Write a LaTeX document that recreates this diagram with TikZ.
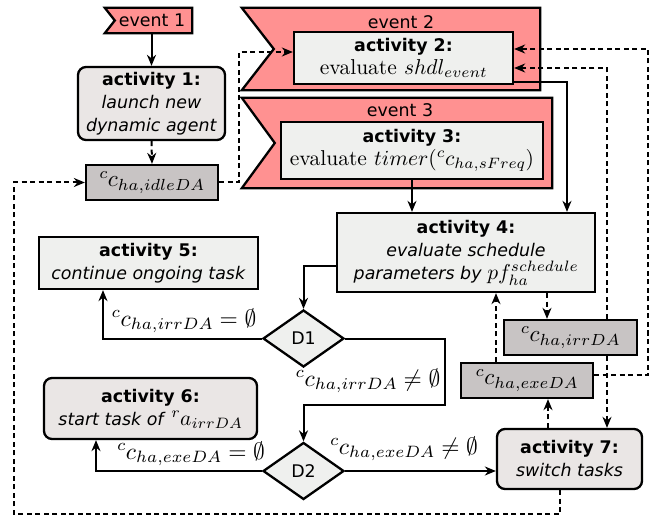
\documentclass[tikz,border=0pt]{standalone}
\usepackage{fontspec}
\setmainfont{lmroman10-regular}[Extension=.otf, ItalicFont=lmroman10-italic, BoldFont=lmroman10-bold]
\setsansfont[Scale=0.81]{DejaVu Sans}
\DeclareFontFamily{OML}{cmm}{\skewchar\font'177}
\DeclareFontShape{OML}{cmm}{m}{it}{<-12>cmmi5 <12-20>cmmi7 <20->cmmi10}{}
\DeclareFontShape{OT1}{cmr}{m}{n}{<-12>cmr5 <12-20>cmr7 <20->cmr10}{}
\DeclareFontShape{OMS}{cmsy}{m}{n}{<-12>cmsy5 <12-20>cmsy7 <20->cmsy10}{}
\DeclareFontShape{OMX}{cmex}{m}{n}{<->cmex10}{}
\usetikzlibrary{arrows.meta,shapes.geometric,backgrounds,calc}
\definecolor{pinkfill}{RGB}{255,145,145}
\definecolor{actfill}{RGB}{239,240,238}
\definecolor{roundfill}{RGB}{234,230,229}
\definecolor{dafill}{RGB}{200,196,196}
\begin{document}
\fontsize{21.5}{23}\selectfont
\begin{tikzpicture}[x=1pt,y=-1pt,
  box/.style={draw, line width=2.3pt, fill=actfill, align=center, inner sep=0pt, font=\sffamily},
  rbox/.style={box, fill=roundfill, rounded corners=8pt},
  dabox/.style={draw, line width=2.3pt, fill=dafill, inner sep=0pt, minimum width=132pt, minimum height=35pt, font=\fontsize{23}{25}\selectfont},
  dec/.style={diamond, draw, line width=2.3pt, fill=actfill, inner sep=0pt, font=\sffamily, minimum width=81pt, minimum height=57pt},
  banner/.style={draw, line width=2.3pt, fill=pinkfill},
  evtext/.style={font=\sffamily, inner sep=0pt},
  conn/.style={line width=2pt},
  arr/.style={conn, -{Stealth[length=11pt,width=9pt,inset=3.5pt]}},
  darr/.style={arr, dash pattern=on 5pt off 3.5pt},
  lbl/.style={inner sep=0pt, font=\fontsize{23.5}{25}\selectfont}
]
\useasboundingbox (0,0) rectangle (657,516);

% events
\node[evtext, minimum width=80pt, minimum height=25pt] (ev1) at (152,20.5) {event 1};
\node[inner sep=0pt, minimum width=298pt, minimum height=82pt] (ev2) at (391,49) {};
\node[evtext] (ev2lbl) at (401,22) {event 2};
\node[inner sep=0pt, minimum width=310pt, minimum height=90pt] (ev3) at (397,143) {};
\node[evtext] (ev3lbl) at (400,110) {event 3};

% activities
\node[rbox, minimum width=147pt, minimum height=73pt] (act1) at (151.5,103.5)
  {\textbf{activity 1:}\\\textit{launch new}\\\textit{dynamic agent}};
\node[box, minimum width=219pt, minimum height=52pt] (act2) at (403.5,58)
  {\textbf{activity 2:}\\\rmfamily evaluate $shdl_{event}$};
\node[box, minimum width=262pt, minimum height=57pt] (act3) at (412,150.5)
  {\textbf{activity 3:}\\\rmfamily evaluate $timer({}^{c}c_{ha,sFreq})$};
\node[box, minimum width=258pt, minimum height=79pt] (act4) at (466,252.5)
  {\textbf{activity 4:}\\\textit{evaluate schedule}\\\textit{parameters by} $pf_{ha}^{schedule}$};
\node[box, minimum width=219pt, minimum height=52pt] (act5) at (148.5,263)
  {\textbf{activity 5:}\\\textit{continue ongoing task}};
\node[rbox, minimum width=213pt, minimum height=61pt] (act6) at (150.5,408.5)
  {\textbf{activity 6:}\\\textit{start task of} ${}^{r}a_{irrDA}$};
\node[rbox, minimum width=145pt, minimum height=60pt] (act7) at (569.5,459)
  {\textbf{activity 7:}\\\textit{switch tasks}};

% data
\node[dabox] (idle) at (152,182.5) {${}^{c}c_{ha,idleDA}$};
\node[dabox, minimum width=133pt] (irr) at (570.5,337.5) {${}^{c}c_{ha,irrDA}$};
\node[dabox] (exe) at (527,380.5) {${}^{c}c_{ha,exeDA}$};

% decisions
\node[dec] (d1) at (303.5,338.5) {D1};
\node[dec] (d2) at (303.5,471) {D2};
\coordinate (mid) at ($(d1.south)!0.5!(d2.north)$);

% labels
\node[lbl] (l1) at (184,321) {${}^{c}c_{ha,irrDA} = \emptyset$};
\node[lbl] (l2) at (368,381) {${}^{c}c_{ha,irrDA} \neq \emptyset$};
\node[lbl] (l3) at (191,454) {${}^{c}c_{ha,exeDA} = \emptyset$};
\node[lbl] (l4) at (404,449) {${}^{c}c_{ha,exeDA} \neq \emptyset$};

\begin{scope}[on background layer]
  \fill[white] (0,0) rectangle (657,516);
  \draw[banner] (ev1.north east) -- (ev1.south east) -- ([xshift=-7pt]ev1.south west)
     -- ([xshift=3pt]ev1.west) -- ([xshift=-7pt]ev1.north west) -- cycle;
  \draw[banner] (ev2.north west) -- (ev2.north east) -- (ev2.south east) -- (ev2.south west)
     -- ([xshift=32pt]ev2.west) -- cycle;
  \draw[banner] (ev3.north west) -- (ev3.north east) -- (ev3.south east) -- (ev3.south west)
     -- ([xshift=33pt]ev3.west) -- cycle;
\end{scope}

% solid connectors
\draw[arr] (act1.north |- ev1.south) -- (act1.north);
\draw[arr] ([yshift=-24pt]act2.east) -| ([xshift=101pt]act4.north);
\draw[arr] (act3.south) -- (act3.south |- act4.north);
\draw[arr] ([yshift=-14pt]act4.west) -| (d1.north);
\draw[arr] (d1.west) -| ([xshift=-45.5pt]act5.south);
\draw[arr] (d1.east) -- ++(100,0) |- (mid) -- (d2.north);
\draw[arr] (d2.west) -| ([xshift=-54.5pt]act6.south);
\draw[arr] (d2.east) -- (d2.east -| act7.west);

% dashed connectors
\draw[darr] (act1.south) -- (idle.north);
\draw[darr] (idle.east) -- ++(20,0) |- ([yshift=6pt]act2.west);
\draw[darr] ([xshift=81pt]act4.south) -- ([xshift=81pt]act4.south |- irr.north);
\draw[darr] ([xshift=-31pt]exe.north) -- ([xshift=-31pt]exe.north |- act4.south);
\draw[darr] ([xshift=-21.5pt]act7.north) -- ([xshift=-21.5pt]act7.north |- exe.south);
\draw[darr] ([xshift=36.5pt]irr.south) -- ([xshift=36.5pt]irr.south |- act7.north);
\draw[darr] ([xshift=36.5pt]irr.north) |- ([yshift=-10pt]act2.east);
\draw[darr] ([yshift=5.5pt]exe.east) -- ++(54,0) |- ([yshift=9pt]act2.east);
\draw[darr] ([xshift=-9.5pt]act7.south) -- ++(0,24) -| ([xshift=-71pt]idle.west) -- (idle.west);
\end{tikzpicture}
\end{document}
